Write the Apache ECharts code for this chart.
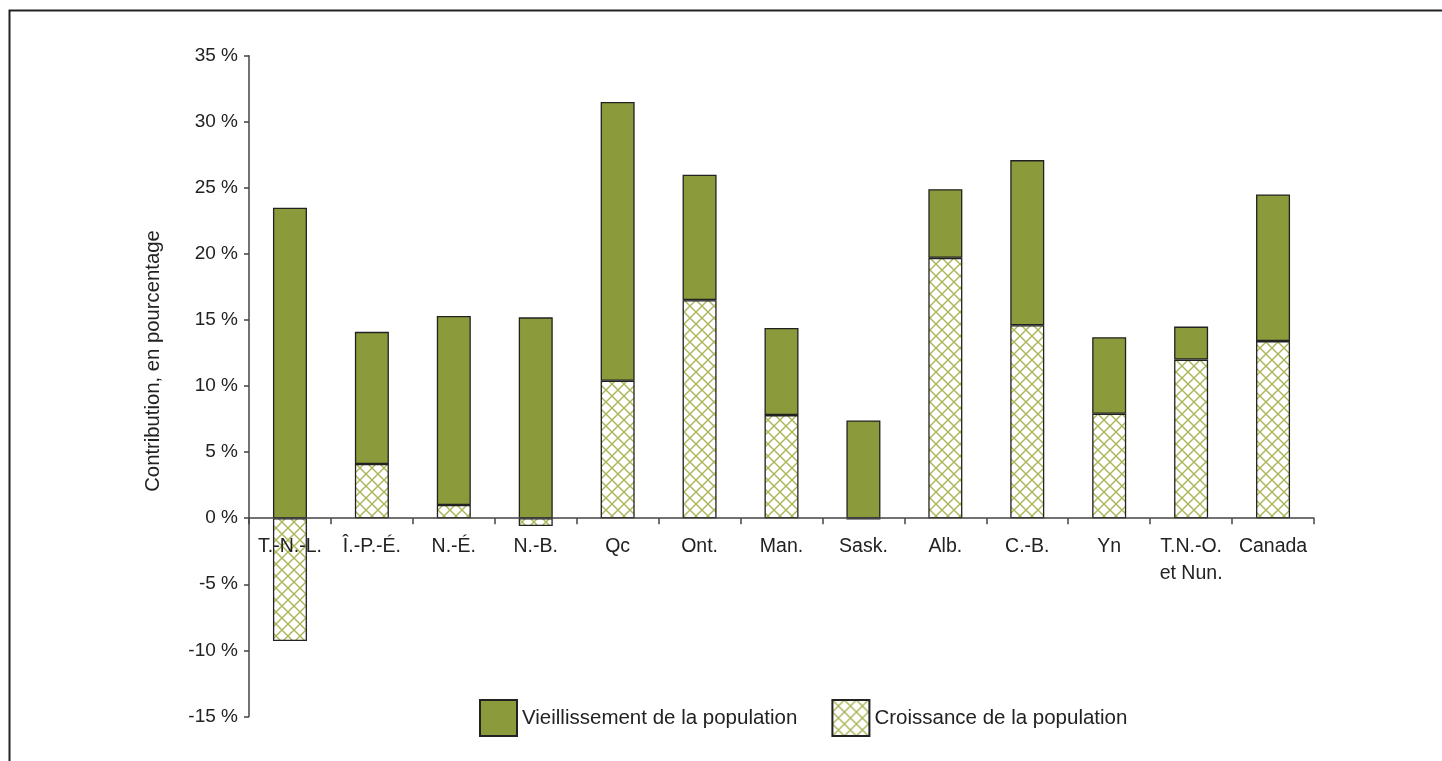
<!DOCTYPE html>
<html>
<head>
<meta charset="utf-8">
<script src="https://cdn.jsdelivr.net/npm/echarts@6/dist/echarts.min.js"></script>
<style>
html,body{margin:0;padding:0;background:#fff;}
#chart{width:1442px;height:761px;}
</style>
</head>
<body>
<div id="chart"></div>
<script>
var categories = ['T.-N.-L.', 'Î.-P.-É.', 'N.-É.', 'N.-B.', 'Qc', 'Ont.', 'Man.', 'Sask.', 'Alb.', 'C.-B.', 'Yn', 'T.N.-O.\net Nun.', 'Canada'];
var croissance = [-9.3, 4.1, 1.0, -0.6, 10.4, 16.5, 7.8, -0.1, 19.7, 14.6, 7.9, 12.0, 13.4];
var vieillissement = [23.5, 10.0, 14.3, 15.2, 21.1, 9.5, 6.6, 7.4, 5.2, 12.5, 5.8, 2.5, 11.1];
var seriesNames = ['Vieillissement de la population', 'Croissance de la population'];
var yTicks = { min: -15, max: 35, interval: 5 };
var yName = 'Contribution, en pourcentage';

var FONT = '"Liberation Sans", Arial, sans-serif';
var GREEN = '#8b9b3b';

var GRID_TOP = 55.7, GRID_BOTTOM = 44.6, CHART_H = 761;
var gridH = CHART_H - GRID_TOP - GRID_BOTTOM;
// distance from grid bottom up to the zero line
var zeroOffset = (0 - yTicks.min) / (yTicks.max - yTicks.min) * gridH;

function makeHatch() {
  var s = 12;
  var c = document.createElement('canvas');
  c.width = s; c.height = s;
  var ctx = c.getContext('2d');
  ctx.fillStyle = '#ffffff';
  ctx.fillRect(0, 0, s, s);
  ctx.strokeStyle = '#abb556';
  ctx.lineWidth = 1.4;
  ctx.beginPath();
  ctx.moveTo(0, 0); ctx.lineTo(s, s);
  ctx.moveTo(s, 0); ctx.lineTo(0, s);
  ctx.stroke();
  return c;
}

var chart = echarts.init(document.getElementById('chart'), null, { renderer: 'canvas' });
var option = {
  animation: false,
  backgroundColor: '#fff',
  grid: { left: 249, right: 128, top: GRID_TOP, bottom: GRID_BOTTOM, containLabel: false, outerBoundsMode: 'none' },
  legend: {
    left: 474, top: 694,
    icon: 'rect',
    itemWidth: 37, itemHeight: 36, itemGap: 34,
    selectedMode: false,
    textStyle: { fontFamily: FONT, fontSize: 20.5, color: '#222' },
    data: seriesNames
  },
  xAxis: {
    type: 'category',
    data: categories,
    z: 5,
    position: 'bottom',
    offset: -zeroOffset,
    axisLine: { onZero: false, lineStyle: { color: '#444', width: 1.5 } },
    axisTick: { show: true, length: 6, lineStyle: { color: '#444', width: 1.5 } },
    axisLabel: { fontFamily: FONT, fontSize: 19.5, color: '#222', margin: 15, lineHeight: 27, interval: 0 }
  },
  yAxis: {
    type: 'value',
    min: yTicks.min, max: yTicks.max, interval: yTicks.interval,
    splitLine: { show: false },
    axisLine: { show: true, lineStyle: { color: '#444', width: 1.5 } },
    axisTick: { show: true, length: 5, lineStyle: { color: '#444', width: 1.5 } },
    axisLabel: { fontFamily: FONT, fontSize: 19, color: '#222', margin: 11, formatter: '{value} %' }
  },
  graphic: [
    { type: 'rect', shape: { x: 9.5, y: 10.5, width: 1500, height: 800 }, style: { fill: 'none', stroke: '#222', lineWidth: 2 }, silent: true },
    { type: 'text', x: 153, y: 361, rotation: Math.PI / 2, style: { text: yName, fontFamily: FONT, fontSize: 20.3, fill: '#222', align: 'center', verticalAlign: 'middle' } }
  ],
  series: [
    {
      name: seriesNames[1], type: 'bar', stack: 'total', barWidth: 34,
      data: croissance,
      itemStyle: { color: { image: makeHatch(), repeat: 'repeat' }, borderColor: '#222', borderWidth: 1.3 }
    },
    {
      name: seriesNames[0], type: 'bar', stack: 'total', barWidth: 34,
      data: vieillissement,
      itemStyle: { color: GREEN, borderColor: '#222', borderWidth: 1.3 }
    }
  ]
};
chart.setOption(option);
</script>
</body>
</html>
